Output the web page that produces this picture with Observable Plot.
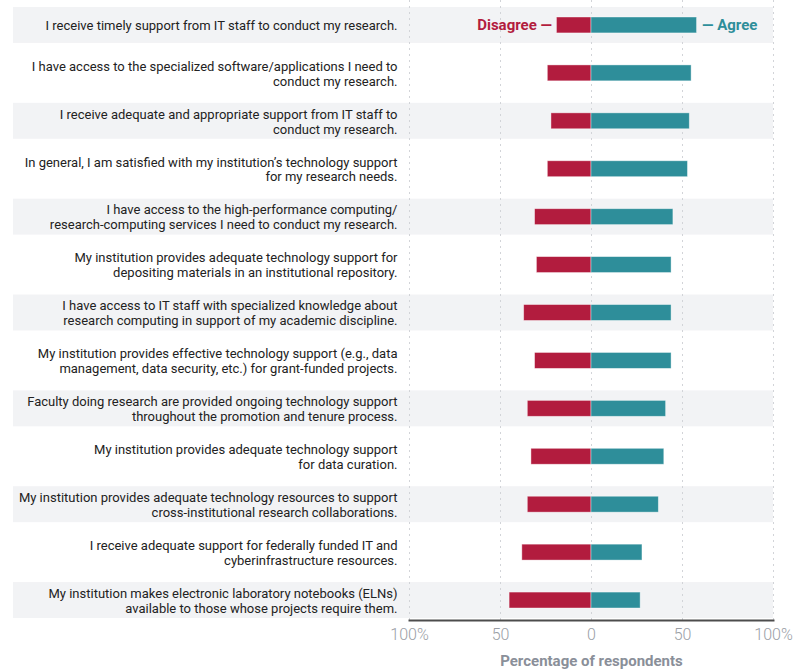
<!DOCTYPE html>
<html>
<head>
<meta charset="utf-8">
<script src="https://cdn.jsdelivr.net/npm/d3@7"></script>
<script src="https://cdn.jsdelivr.net/npm/@observablehq/plot@0.6"></script>
<style>
  html, body { margin: 0; padding: 0; background: #fff; }
  #chart svg { display: block; }
</style>
</head>
<body>
<div id="chart"></div>
<script>
const statements = [
  "I receive timely support from IT staff to conduct my research.",
  "I have access to the specialized software/applications I need to\nconduct my research.",
  "I receive adequate and appropriate support from IT staff to\nconduct my research.",
  "In general, I am satisfied with my institution’s technology support\nfor my research needs.",
  "I have access to the high-performance computing/\nresearch-computing services I need to conduct my research.",
  "My institution provides adequate technology support for\ndepositing materials in an institutional repository.",
  "I have access to IT staff with specialized knowledge about\nresearch computing in support of my academic discipline.",
  "My institution provides effective technology support (e.g., data\nmanagement, data security, etc.) for grant-funded projects.",
  "Faculty doing research are provided ongoing technology support\nthroughout the promotion and tenure process.",
  "My institution provides adequate technology support\nfor data curation.",
  "My institution provides adequate technology resources to support\ncross-institutional research collaborations.",
  "I receive adequate support for federally funded IT and\ncyberinfrastructure resources.",
  "My institution makes electronic laboratory notebooks (ELNs)\navailable to those whose projects require them."
];
const disagree = [19, 24, 22, 24, 31, 30, 37, 31, 35, 33, 35, 38, 45];
const agree    = [58, 55, 54, 53, 45, 44, 44, 44, 41, 40, 37, 28, 27];
const xTicks = [-100, -50, 0, 50, 100];
const xTickLabels = ["100%", "50", "0", "50", "100%"];

const RED = "#b21c3e";
const TEAL = "#2e8e9a";

const data = statements.map((s, i) => ({s, d: disagree[i], a: agree[i], i}));
const tickLabel = new Map(xTicks.map((t, i) => [t, xTickLabels[i]]));

const chart = Plot.plot({
  width: 800,
  height: 669,
  marginTop: 0,
  marginBottom: 49,
  marginLeft: 409,
  marginRight: 27,
  style: {fontFamily: "Roboto, 'DejaVu Sans', sans-serif", background: "#fff"},
  x: {domain: [-100, 100], axis: null},
  y: {domain: statements, range: [1, 624], padding: 0, round: false, axis: null},
  marks: [
    Plot.barX(data.filter(d => d.i % 2 === 0), {
      y: "s", x1: -100, x2: 100, fill: "#f2f3f5",
      insetLeft: -396, insetTop: 6, insetBottom: 6
    }),
    Plot.ruleX(xTicks, {x: d => d, stroke: "#d2d4d8", strokeDasharray: "2,4", strokeWidth: 1}),
    Plot.barX(data, {
      y: "s", x1: d => -d.d, x2: 0, fill: RED,
      insetTop: 16, insetBottom: 16, stroke: "#fff", strokeOpacity: 0.5, strokeWidth: 0.8
    }),
    Plot.barX(data, {
      y: "s", x1: 0, x2: "a", fill: TEAL,
      insetTop: 16, insetBottom: 16, stroke: "#fff", strokeOpacity: 0.5, strokeWidth: 0.8
    }),
    Plot.text(data, {
      y: "s", x: -100, text: "s", textAnchor: "end", dx: -12,
      lineHeight: 1.15, fontSize: 13, fill: "#222"
    }),
    Plot.text(data.slice(0, 1), {
      y: "s", x: d => -d.d, text: () => "Disagree —", textAnchor: "end", dx: -5,
      fill: RED, fontWeight: "bold", fontSize: 15
    }),
    Plot.text(data.slice(0, 1), {
      y: "s", x: "a", text: () => "— Agree", textAnchor: "start", dx: 5,
      fill: TEAL, fontWeight: "bold", fontSize: 15
    }),
    Plot.frame({anchor: "bottom", stroke: "#4d4d4d", strokeWidth: 2}),
    Plot.axisX(xTicks, {
      tickFormat: d => tickLabel.get(d), tickSize: 0, tickPadding: 8,
      fontSize: 16, fill: "#9a9ea5", fontWeight: 300, label: null
    }),
    Plot.axisX([], {
      tickSize: 0, fontSize: 15, fill: "#8a8f99", fontWeight: "bold",
      label: "Percentage of respondents", labelAnchor: "center", labelArrow: "none",
      labelOffset: 45
    })
  ]
});
document.getElementById("chart").appendChild(chart);
</script>
</body>
</html>
